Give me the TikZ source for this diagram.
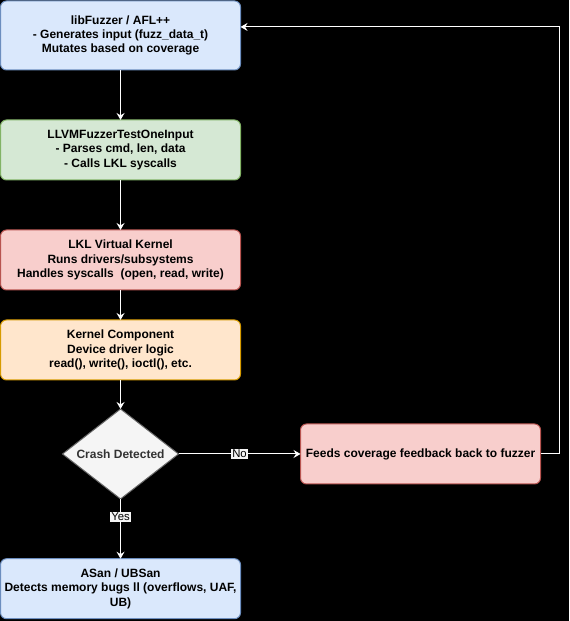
\documentclass[tikz,border=0pt]{standalone}
\usepackage{fontspec}
\setmainfont{Liberation Sans}
\usetikzlibrary{positioning,shapes.geometric,arrows.meta}
\definecolor{blueFill}{HTML}{DAE8FC}
\definecolor{blueLine}{HTML}{6C8EBF}
\definecolor{greenFill}{HTML}{D5E8D4}
\definecolor{greenLine}{HTML}{82B366}
\definecolor{redFill}{HTML}{F8CECC}
\definecolor{redLine}{HTML}{B85450}
\definecolor{orangeFill}{HTML}{FFE6CC}
\definecolor{orangeLine}{HTML}{D79B00}
\definecolor{greyFill}{HTML}{F5F5F5}
\definecolor{greyLine}{HTML}{666666}
\definecolor{greyText}{HTML}{333333}
\tikzset{
    box/.style = {
       shape=rectangle, rounded corners=4.5pt,
       align=center,
       inner sep=0pt, outer sep=0pt,
       line width=.75pt,
       minimum width = 180pt,
       minimum height = 45pt,
       text=black,
       font=\bfseries\fontsize{9}{10.7}\selectfont
    },
    blueBox/.style = {box, fill=blueFill, draw=blueLine},
    greenBox/.style = {box, fill=greenFill, draw=greenLine},
    redBox/.style = {box, fill=redFill, draw=redLine},
    orangeBox/.style = {box, fill=orangeFill, draw=orangeLine},
    decision/.style = {
       shape=diamond, aspect=1.29,
       inner sep=0pt, outer sep=0pt,
       line width=.75pt,
       minimum width = 87pt,
       minimum height = 67.5pt,
       fill=greyFill, draw=greyLine, text=greyText,
       font=\bfseries\fontsize{9}{10.7}\selectfont
    },
    answer/.style = {
       fill=greyFill, text=black, inner sep=1pt,
       font=\fontsize{8.5}{10}\selectfont
    }
}
\begin{document}
\begin{tikzpicture}[->,>={Stealth[length=5.25pt,width=6pt,inset=1.8pt]},white,line width=.75pt]
   \fill[black] (0,0) rectangle (426.75pt,-465.75pt);
   \useasboundingbox (0,0) rectangle (426.75pt,-465.75pt);
   \node[blueBox, minimum height=51.75pt] (Fuzzer) at (90.4pt,-26.6pt) {libFuzzer / AFL++\\- Generates input (fuzz\_data\_t)\\Mutates based on coverage};
   \node[greenBox] (Harness) [below =37.5pt of Fuzzer] {LLVMFuzzerTestOneInput\\- Parses cmd, len, data\\- Calls LKL syscalls};
   \node[redBox] (Kernel) [below =37.5pt of Harness] {LKL Virtual Kernel\\Runs drivers/subsystems\\Handles syscalls~~(open, read, write)};
   \node[orangeBox] (Component) [below =22.5pt of Kernel] {Kernel Component\\Device driver logic\\read(), write(), ioctl(), etc.};
   \node[decision] (Crash) [below =21.75pt of Component] {Crash Detected};
   \node[redBox] (Feedback) [right =91.5pt of Crash] {Feeds coverage feedback back to fuzzer};
   \node[blueBox] (Sanitizer) [below =44.8pt of Crash] {ASan / UBSan\\Detects memory bugs ll (overflows, UAF,\\UB)};
\path
(Fuzzer) edge (Harness)
(Harness) edge (Kernel)
(Kernel) edge (Component)
(Component) edge (Crash)
(Crash) edge node[answer, pos=.3] {Yes} (Sanitizer)
(Crash) edge node[answer] {No} (Feedback);
\draw (Feedback.east) -- ++(14.5pt,0) coordinate (Turn) |- ([yshift=6.4pt]Fuzzer.east);
\end{tikzpicture}
\end{document}
